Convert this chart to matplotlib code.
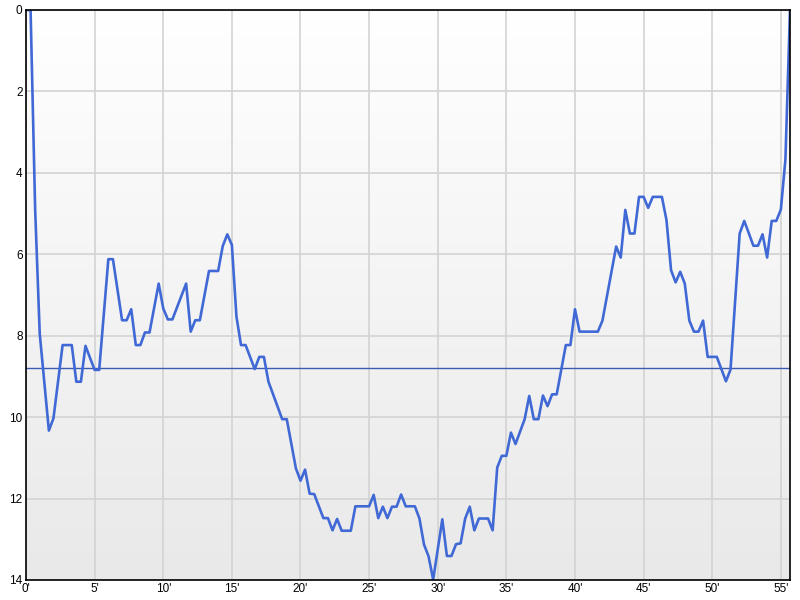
import numpy as np
import matplotlib
matplotlib.use("Agg")
import matplotlib.pyplot as plt
from matplotlib.colors import LinearSegmentedColormap

# 20-second sample index (vertex of the profile) and depth in metres
sample_index = [0, 1, 2, 3, 5, 6, 8, 10, 11, 12, 13, 15, 16, 18, 19, 21, 22, 23, 24, 25,
                26, 27, 29, 30, 31, 32, 35, 36, 37, 38, 40, 42, 43, 44, 45, 46, 47, 48, 50, 51,
                52, 53, 56, 57, 59, 60, 61, 62, 63, 65, 66, 67, 68, 69, 71, 72, 75, 76, 77, 78,
                79, 80, 81, 82, 83, 85, 86, 87, 88, 89, 91, 92, 93, 94, 95, 96, 97, 98, 99, 101,
                102, 103, 104, 105, 106, 107, 109, 110, 111, 112, 113, 114, 115, 116, 118, 119, 120, 121, 125, 126,
                129, 130, 131, 132, 133, 134, 135, 136, 137, 139, 140, 141, 142, 143, 144, 145, 146, 147, 148, 149,
                151, 153, 154, 156, 157, 159, 160, 161, 162, 163, 164, 165, 166, 167]
depth = [0, 0, 4.9, 7.95, 10.33, 10.03, 8.23, 8.23, 9.13, 9.13, 8.25, 8.84, 8.84, 6.12, 6.12, 7.62, 7.62, 7.35, 8.23, 8.23,
         7.92, 7.92, 6.72, 7.33, 7.6, 7.6, 6.72, 7.9, 7.62, 7.62, 6.41, 6.41, 5.8, 5.51, 5.77, 7.53, 8.23, 8.23, 8.82, 8.52,
         8.52, 9.13, 10.05, 10.05, 11.26, 11.56, 11.29, 11.88, 11.89, 12.48, 12.48, 12.78, 12.5, 12.79, 12.79, 12.19, 12.19, 11.91, 12.48, 12.2,
         12.48, 12.2, 12.2, 11.9, 12.19, 12.19, 12.49, 13.13, 13.42, 13.99, 12.51, 13.41, 13.41, 13.12, 13.1, 12.49, 12.2, 12.78, 12.49, 12.49,
         12.78, 11.24, 10.95, 10.95, 10.38, 10.66, 10.05, 9.48, 10.05, 10.05, 9.47, 9.73, 9.44, 9.44, 8.23, 8.23, 7.35, 7.9, 7.9, 7.63,
         5.81, 6.08, 4.91, 5.49, 5.49, 4.59, 4.59, 4.86, 4.59, 4.59, 5.16, 6.39, 6.69, 6.43, 6.72, 7.63, 7.9, 7.9, 7.63, 8.52,
         8.52, 9.12, 8.83, 5.49, 5.18, 5.79, 5.79, 5.51, 6.08, 5.18, 5.18, 4.9, 3.67, 0]
average_depth = 8.80

x_ticks = [0, 5, 10, 15, 20, 25, 30, 35, 40, 45, 50, 55]
x_tick_labels = ["0'", "5'", "10'", "15'", "20'", "25'", "30'", "35'", "40'", "45'", "50'", "55'"]
y_ticks = [0, 2, 4, 6, 8, 10, 12, 14]

minutes = np.array(sample_index) / 3.0

plt.rcParams['font.family'] = ['Liberation Sans', 'DejaVu Sans']

fig = plt.figure(figsize=(8, 6), dpi=100)
ax = fig.add_axes([26 / 800, 1 - 580 / 600, (790 - 26) / 800, (580 - 10) / 600])

# background gradient (white at top to light grey at bottom)
cmap = LinearSegmentedColormap.from_list("bg", ["#ffffff", "#e9e9e9"])
grad = np.linspace(0, 1, 256).reshape(-1, 1)
ax.imshow(grad, cmap=cmap, aspect="auto", extent=[0, 1, 0, 1], origin="upper",
          transform=ax.transAxes, zorder=0, interpolation="bicubic")

ax.set_xlim(0, 167 / 3.0)
ax.set_ylim(14, 0)

ax.set_xticks(x_ticks)
ax.set_xticklabels(x_tick_labels)
ax.set_yticks(y_ticks)
ax.tick_params(axis="both", length=0, labelsize=8.5, colors="#000000", pad=2.5)

ax.grid(True, color="#d3d3d3", linewidth=1.2, zorder=1)
ax.set_axisbelow(True)

ax.axhline(average_depth, color="#3a5bb0", linewidth=1.0, zorder=2)
ax.plot(minutes, depth, color="#4169d6", linewidth=1.9, zorder=3,
        solid_joinstyle="round", clip_on=True)

for s in ax.spines.values():
    s.set_color("#000000")
    s.set_linewidth(1.2)
    s.set_zorder(5)

fig.savefig("out.png", dpi=100)
